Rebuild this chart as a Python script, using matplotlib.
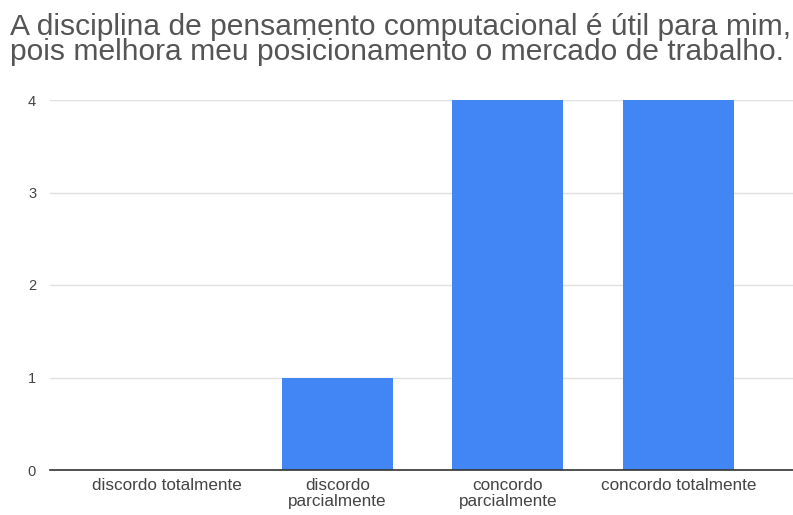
import matplotlib.pyplot as plt

categories = ["discordo totalmente", "discordo\nparcialmente",
              "concordo\nparcialmente", "concordo totalmente"]
counts = [0, 1, 4, 4]
yticks = [0, 1, 2, 3, 4]

plt.rcParams['font.family'] = ['Liberation Sans', 'DejaVu Sans']

fig = plt.figure(figsize=(7.93, 5.15), dpi=100)
ax = fig.add_axes([50 / 793, 1 - 470 / 515, 743 / 793, 370 / 515])

x = range(len(categories))
ax.bar(x, counts, width=0.65, color="#4285f4", zorder=3)

ax.set_xlim(-0.683, 3.67)
ax.set_ylim(0, 4)
ax.set_yticks(yticks)
ax.set_xticks(list(x))
ax.set_xticklabels(categories, fontsize=12.3, color="#444444", linespacing=1.05)
ax.tick_params(axis="y", length=0, labelsize=10.5, labelcolor="#444444", pad=10)
ax.tick_params(axis="x", length=0, pad=6)
ax.grid(axis="y", color="#e0e0e0", linewidth=1, zorder=0)
for s in ["top", "right", "left"]:
    ax.spines[s].set_visible(False)
ax.spines["bottom"].set_color("#333333")
ax.spines["bottom"].set_linewidth(1.2)
ax.spines["bottom"].set_zorder(4)

fig.text(10 / 793, 1 - 13 / 515,
         "A disciplina de pensamento computacional é útil para mim,\n"
         "pois melhora meu posicionamento o mercado de trabalho.",
         ha="left", va="top", fontsize=21.6, color="#555555", linespacing=0.88)

fig.savefig("out.png", dpi=100, facecolor="white")
